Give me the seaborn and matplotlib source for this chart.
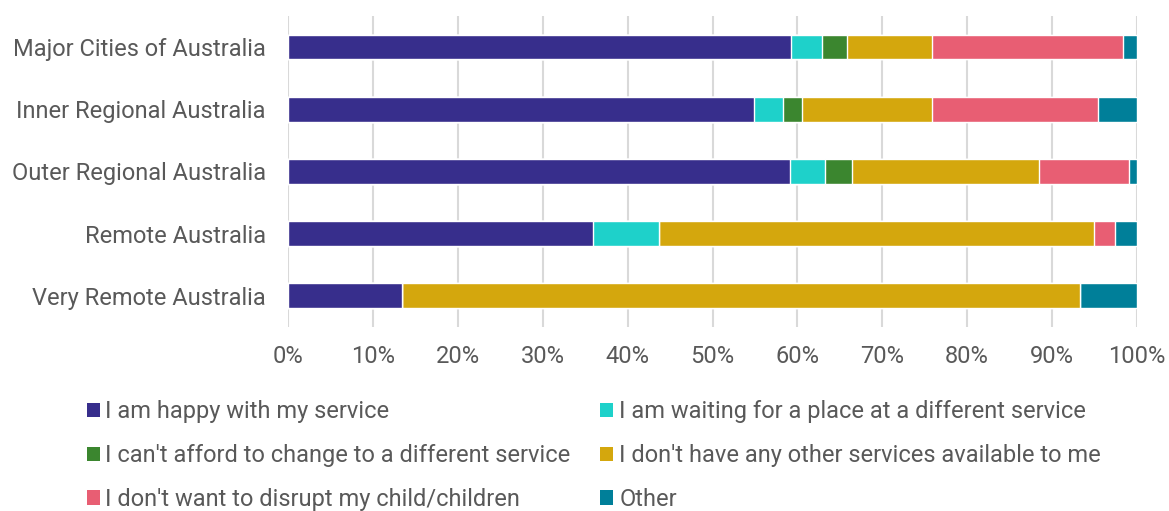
import numpy as np
import pandas as pd
import seaborn as sns
import matplotlib.pyplot as plt
from matplotlib.patches import Patch

# Data (percent of respondents)
regions = ['Major Cities of Australia', 'Inner Regional Australia', 'Outer Regional Australia',
           'Remote Australia', 'Very Remote Australia']
reasons = ['I am happy with my service',
           'I am waiting for a place at a different service',
           "I can't afford to change to a different service",
           "I don't have any other services available to me",
           "I don't want to disrupt my child/children",
           'Other']
happy = [59.3, 54.9, 59.1, 35.9, 13.4]
waiting = [3.6, 3.4, 4.1, 7.8, 0.0]
afford = [3.0, 2.2, 3.2, 0.0, 0.0]
no_other = [9.9, 15.3, 22.1, 51.2, 79.9]
disrupt = [22.5, 19.6, 10.6, 2.5, 0.0]
other = [1.7, 4.6, 0.9, 2.6, 6.7]
colors = ['#372E8C', '#1ED1CA', '#3B862F', '#D4A70D', '#E85E73', '#007F99']

df = pd.DataFrame({'region': regions})
series = [happy, waiting, afford, no_other, disrupt, other]
for name, vals in zip(reasons, series):
    df[name] = vals
# cumulative totals so the stacked bars can be drawn back to front
cum = df[reasons].cumsum(axis=1)

sns.set_theme(style='white')
plt.rcParams['font.family'] = ['Roboto', 'DejaVu Sans']
text_color = '#595959'

fig = plt.figure(figsize=(11.69, 5.11), dpi=100)
ax = fig.add_axes([0.2464, 0.36, 0.7262, 0.609])

for i in range(len(reasons) - 1, -1, -1):
    sns.barplot(x=cum[reasons[i]], y=df['region'], color=colors[i], width=0.4,
                orient='h', ax=ax, saturation=1, zorder=3)

ax.set_xlim(0, 100)
ax.set_xticks(np.arange(0, 101, 10))
ax.set_xticklabels([f'{v}%' for v in range(0, 101, 10)])
ax.set_xlabel('')
ax.set_ylabel('')
ax.grid(axis='x', color='#D9D9D9', linewidth=1.5, zorder=0)
ax.grid(axis='y', visible=False)
for s in ax.spines.values():
    s.set_visible(False)
ax.tick_params(axis='x', length=0, pad=13, labelsize=17, labelcolor=text_color)
ax.tick_params(axis='y', length=0, pad=16, labelsize=17, labelcolor=text_color)

# legend in row order: two columns
order = [0, 2, 4, 1, 3, 5]
handles = [Patch(facecolor=colors[i], edgecolor='none', label=reasons[i]) for i in order]
fig.legend(handles=handles, loc='upper left', bbox_to_anchor=(0.066, 0.235), ncol=2,
           frameon=False, fontsize=17, labelcolor=text_color,
           handlelength=0.55, handleheight=0.55, handletextpad=0.25,
           columnspacing=1.25, labelspacing=0.88, borderaxespad=0)

fig.savefig('out.png', dpi=100)
